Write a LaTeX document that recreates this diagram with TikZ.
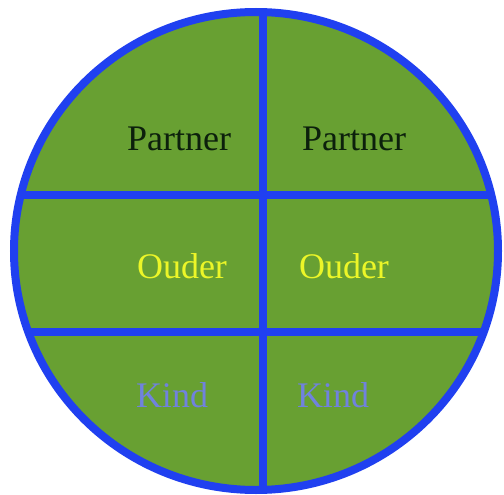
\documentclass[tikz,border=0pt]{standalone}
\usepackage{fontspec}
\setmainfont{Liberation Serif}
\definecolor{fieldgreen}{RGB}{104,160,50}
\definecolor{lineblue}{RGB}{32,64,240}
\definecolor{oudercol}{RGB}{236,246,40}
\definecolor{kindcol}{RGB}{112,130,222}
\definecolor{partnercol}{RGB}{12,32,12}
\tikzset{
  lbl/.style={anchor=base, inner sep=0pt, font=\fontsize{36}{40}\selectfont},
  divider/.style={draw=lineblue, line width=8pt},
}
\begin{document}
\begin{tikzpicture}[x=1pt,y=-1pt]
\useasboundingbox (0,0) rectangle (504,495);
\fill[white] (0,0) rectangle (504,495);
\fill[fieldgreen] (256,251) ellipse [x radius=242, y radius=239];
\begin{scope}
  \clip (256,251) ellipse [x radius=242, y radius=239];
  \draw[divider] (0,195) -- (504,195);
  \draw[divider] (0,332) -- (504,332);
  \draw[divider] (263,0) -- (263,495);
\end{scope}
\draw[divider] (256,251) ellipse [x radius=242, y radius=239];
\node[lbl, text=partnercol] (p1) at (179,150) {Partner};
\node[lbl, text=partnercol] (p2) at (354,150) {Partner};
\node[lbl, text=oudercol] (o1) at (182,278) {Ouder};
\node[lbl, text=oudercol] (o2) at (344,278) {Ouder};
\node[lbl, text=kindcol] (k1) at (172,407) {Kind};
\node[lbl, text=kindcol] (k2) at (333,407) {Kind};
\end{tikzpicture}
\end{document}
